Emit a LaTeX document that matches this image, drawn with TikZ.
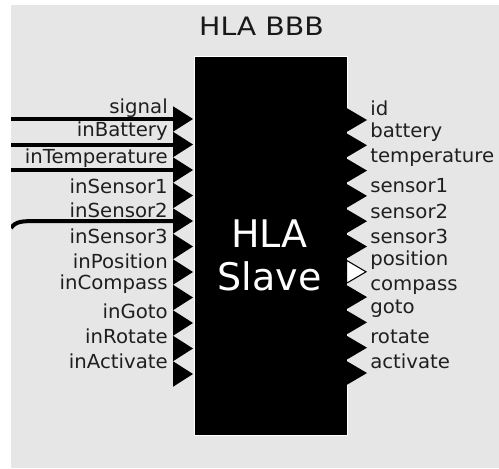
\documentclass[tikz,border=0pt]{standalone}
\usepackage{fontspec}
\setmainfont{DejaVu Sans}
\newfontfamily\portfont{DejaVu Sans}[FakeStretch=1.02]
\newfontfamily\titlefont{DejaVu Sans}[FakeStretch=1.12]
\newfontfamily\blockfont{DejaVu Sans}
\definecolor{canvas}{RGB}{230,230,230}

\begin{document}
\begin{tikzpicture}[x=0.75pt,y=-0.75pt,
  wire/.style={line width=3pt},
  portlabel/.style={inner sep=0pt, font=\portfont\fontsize{14.5}{17}\selectfont, text=black!88},
  inlabel/.style={portlabel, anchor=base east},
  outlabel/.style={portlabel, anchor=base west},
  porttri/.style={fill=black},
  hollowtri/.style={fill=white, draw=black, line width=0.8pt, line join=miter}]

\useasboundingbox (0,0) rectangle (499,468);
\fill[white] (0,0) rectangle (499,468);
\fill[canvas] (11,5) rectangle (499,468);

% block title
\node (title) [anchor=base, inner sep=0pt, text=black!90, font=\titlefont\fontsize{19}{22}\selectfont] at (261.5,35) {HLA BBB};

% the block body
\node (block) [anchor=north west, fill=black, draw=white, line width=1.1pt, inner sep=0pt,
  minimum width=114.4pt, minimum height=284.25pt] at (194,55.5) {};
\node (name1) [anchor=base, inner sep=0pt, text=white, font=\blockfont\fontsize{28.5}{32}\selectfont] at (269.5,247) {HLA};
\node (name2) [anchor=base, inner sep=0pt, text=white, font=\blockfont\fontsize{28.5}{32}\selectfont] at (269.5,290) {Slave};

% input ports (left) with their labels
\foreach \lbl/\bl [count=\k from 0] in {signal/113,inBattery/136,inTemperature/163,inSensor1/193,inSensor2/217,inSensor3/243,inPosition/268,inCompass/289,inGoto/318,inRotate/343,inActivate/368}{
  \pgfmathsetmacro{\py}{119+25.5*\k}
  \fill[porttri] (173,\py-12.75) -- (193,\py) -- (173,\py+12.75) -- cycle;
  \coordinate (in\k) at (173,\py);
  \node (inlab\k) [inlabel] at (168,\bl) {\lbl};
}

% output ports (right) with their labels
\foreach \lbl/\bl [count=\k from 0] in {id/115,battery/137,temperature/162,sensor1/192,sensor2/218,sensor3/243,position/265,compass/290,goto/313,rotate/343,activate/368}{
  \pgfmathsetmacro{\py}{120+25.3*\k}
  \ifnum\k=6
    \filldraw[hollowtri] (346.5,\py-11.5) -- (366,\py) -- (346.5,\py+11.5) -- cycle;
  \else
    \fill[porttri] (345.5,\py-12.65) -- (367,\py) -- (345.5,\py+12.65) -- cycle;
  \fi
  \coordinate (out\k) at (367,\py);
  \node (outlab\k) [outlabel] at (370,\bl) {\lbl};
}

% incoming links
\coordinate (src0) at (11,119);
\coordinate (src1) at (11,144.5);
\coordinate (src2) at (11,170);
\coordinate (src4) at (11,228);
\draw[wire] (src0) -- (in0);
\draw[wire] (src1) -- (in1);
\draw[wire] (src2) -- (in2);
\begin{scope}
  \clip (11,5) rectangle (499,468);
  \draw[wire] (src4) .. controls (16,221) and (22,221) .. (40,221) -- (in4);
\end{scope}
\end{tikzpicture}
\end{document}
